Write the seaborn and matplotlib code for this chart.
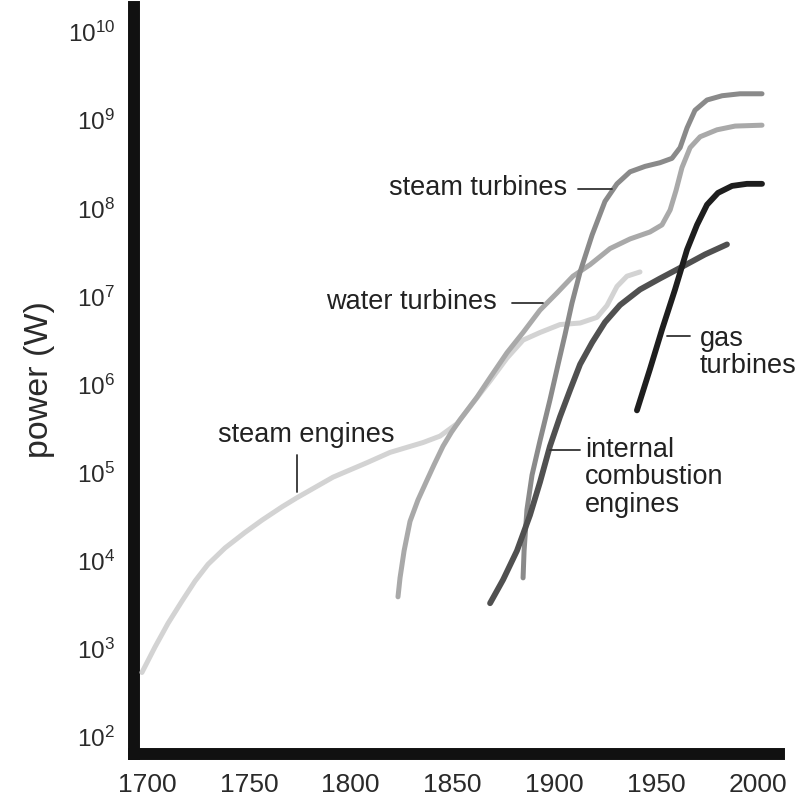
import numpy as np
import pandas as pd
import matplotlib
matplotlib.use("Agg")
import matplotlib.pyplot as plt
import seaborn as sns

# values (year, power in W)
steam_engine_years = [1697.5, 1703.9, 1710.3, 1717.2, 1723.6, 1729.9, 1738.3, 1748.1, 1756.5,
                      1766.3, 1773.6, 1791.3, 1808.0, 1819.3, 1835.5, 1843.8, 1852.2, 1860.0,
                      1868.4, 1876.7, 1884.6, 1892.9, 1902.7, 1912.6, 1920.9, 1925.8, 1930.7,
                      1935.6, 1942.0]
steam_engine_power = [5.4e2, 1.05e3, 1.95e3, 3.5e3, 5.9e3, 9.1e3, 1.4e4, 2.1e4, 2.9e4,
                      4.1e4, 5.2e4, 8.9e4, 1.3e5, 1.7e5, 2.2e5, 2.6e5, 3.6e5, 6.2e5,
                      1.1e6, 2.0e6, 3.2e6, 3.9e6, 4.8e6, 5.0e6, 5.8e6, 7.9e6, 1.3e7,
                      1.7e7, 1.9e7]

water_turbine_years = [1823.2, 1824.2, 1826.2, 1829.1, 1833.0, 1837.5, 1840.9, 1845.3, 1849.5,
                       1853.7, 1862.0, 1868.4, 1876.7, 1884.6, 1892.9, 1901.3, 1909.1, 1917.5,
                       1927.3, 1937.1, 1946.9, 1952.8, 1956.8, 1959.7, 1962.6, 1966.6, 1971.5,
                       1979.8, 1988.7, 2001.9]
water_turbine_power = [3.9e3, 6.4e3, 1.3e4, 2.8e4, 4.9e4, 8.3e4, 1.23e5, 2.0e5, 2.9e5,
                       4.0e5, 7.2e5, 1.2e6, 2.3e6, 3.9e6, 7.0e6, 1.1e7, 1.7e7, 2.3e7,
                       3.5e7, 4.5e7, 5.4e7, 6.5e7, 9.6e7, 1.6e8, 2.9e8, 4.9e8, 6.5e8,
                       7.8e8, 8.6e8, 8.8e8]

steam_turbine_years = [1884.6, 1885.1, 1886.5, 1889.0, 1892.9, 1897.8, 1901.8, 1905.2, 1908.6,
                       1912.6, 1918.5, 1924.8, 1930.7, 1937.1, 1944.5, 1951.8, 1957.7, 1961.7,
                       1965.1, 1969.0, 1974.9, 1982.3, 1991.1, 2001.9]
steam_turbine_power = [6.4e3, 1.3e4, 3.8e4, 9.4e4, 2.3e5, 6.7e5, 1.7e6, 3.7e6, 8.4e6,
                       1.9e7, 5.0e7, 1.2e8, 1.9e8, 2.6e8, 3.0e8, 3.3e8, 3.7e8, 4.9e8,
                       8.2e8, 1.3e9, 1.7e9, 1.9e9, 2.0e9, 2.0e9]

ic_engine_years = [1868.4, 1874.8, 1881.6, 1888.0, 1892.9, 1897.8, 1902.7, 1907.7, 1912.6,
                   1918.5, 1924.8, 1932.2, 1942.0, 1951.8, 1963.1, 1973.9, 1984.7]
ic_engine_power = [3.3e3, 6.1e3, 1.3e4, 3.3e4, 7.8e4, 2.0e5, 4.3e5, 8.7e5, 1.7e6,
                   3.0e6, 5.1e6, 8.0e6, 1.2e7, 1.6e7, 2.2e7, 3.0e7, 3.9e7]

gas_turbine_years = [1940.5, 1946.9, 1952.8, 1959.2, 1965.1, 1970.0, 1974.9, 1980.3, 1987.2,
                     1994.5, 2001.9]
gas_turbine_power = [5.1e5, 1.5e6, 4.2e6, 1.2e7, 3.4e7, 6.5e7, 1.1e8, 1.5e8, 1.8e8,
                     1.9e8, 1.9e8]

x_ticks = [1700, 1750, 1800, 1850, 1900, 1950, 2000]
y_exponents = [2, 3, 4, 5, 6, 7, 8, 9, 10]

sns.set_style("white")
plt.rcParams["font.family"] = ["Liberation Sans", "DejaVu Sans"]
plt.rcParams["mathtext.fontset"] = "custom"
plt.rcParams["mathtext.rm"] = "Liberation Sans"

fig = plt.figure(figsize=(8, 7.99), dpi=100)
W, H = 800, 799
ax = fig.add_axes([134 / W, (H - 754) / H, (779 - 134) / W, (754 - 7) / H])

series = [
    (steam_engine_years, steam_engine_power, "#d3d3d3", 3.6),
    (water_turbine_years, water_turbine_power, "#a9a9a9", 3.6),
    (steam_turbine_years, steam_turbine_power, "#8a8a8a", 3.6),
    (ic_engine_years, ic_engine_power, "#505050", 4.2),
    (gas_turbine_years, gas_turbine_power, "#1e1e1e", 4.2),
]
for i, (xs, ys, col, lw) in enumerate(series):
    df = pd.DataFrame({"year": xs, "power": ys})
    sns.lineplot(data=df, x="year", y="power", ax=ax, color=col, linewidth=lw,
                 estimator=None, sort=False, zorder=3 + i,
                 solid_joinstyle="round", solid_capstyle="round")

ax.set_yscale("log")
ax.set_xlim(1693.6, 1693.6 + 645 / 2.037)
ax.set_ylim(10 ** 1.807, 10 ** (1.807 + 747 / 88.1))
ax.set_xticks(x_ticks)
ax.set_xticklabels([str(t) for t in x_ticks])
ax.set_yticks([10.0 ** e for e in y_exponents])
ax.set_yticklabels([r"$\mathregular{10^{%d}}$" % e for e in y_exponents])
ax.minorticks_off()
ax.tick_params(axis="x", length=0, pad=13.5, labelsize=19, labelcolor="#2a2a2a")
ax.tick_params(axis="y", length=0, pad=13.5, labelsize=17.5, labelcolor="#2a2a2a")
ax.set_xlabel("")
ax.set_ylabel("")

for side in ["top", "right"]:
    ax.spines[side].set_visible(False)
ax.spines["left"].set_linewidth(8.6)
ax.spines["bottom"].set_linewidth(8.6)
ax.spines["left"].set_color("#111111")
ax.spines["bottom"].set_color("#111111")
ax.spines["bottom"].set_capstyle("projecting")

# curve labels and their leader lines
txt_kw = dict(fontsize=19.5, color="#222222", zorder=10)
ax.text(1906.2, 10 ** 8.23, "steam turbines", ha="right", va="center", **txt_kw)
ax.text(1871.8, 10 ** 6.94, "water turbines", ha="right", va="center", **txt_kw)
ax.text(1778.3, 10 ** 5.43, "steam engines", ha="center", va="center", **txt_kw)
ax.text(1971.5, 10 ** 6.66, "gas\nturbines", ha="left", va="top", linespacing=1.05, **txt_kw)
ax.text(1915.0, 10 ** 5.41, "internal\ncombustion\nengines", ha="left", va="top",
        linespacing=1.08, **txt_kw)

leaders = [
    ([1911.6, 1928.3], [8.22, 8.22]),
    ([1879.2, 1894.4], [6.93, 6.93]),
    ([1773.6, 1773.6], [5.20, 4.78]),
    ([1955.3, 1966.6], [6.55, 6.55]),
    ([1897.8, 1912.6], [5.26, 5.26]),
]
for lx, ly in leaders:
    ax.plot(lx, [10 ** v for v in ly], color="#333333", linewidth=1.3, zorder=9)

fig.text(40 / W, 1 - 380 / H, "power (W)", rotation=90, ha="center", va="center",
         fontsize=24.5, color="#2a2a2a")

fig.savefig("out.png", dpi=100)
